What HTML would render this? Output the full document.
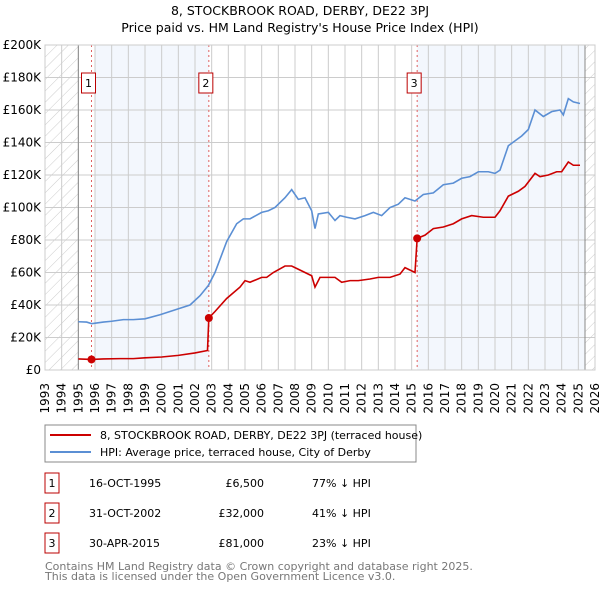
<!DOCTYPE html>
<html><head><meta charset="utf-8"><style>
body{margin:0;background:#fff;font-family:"DejaVu Sans","Liberation Sans",sans-serif;}
svg text{font-family:"DejaVu Sans","Liberation Sans",sans-serif;}
</style></head><body>
<svg id="c" width="600" height="590" viewBox="0 0 600 590" xmlns="http://www.w3.org/2000/svg">
<defs><pattern id="hatch" width="8" height="8" patternUnits="userSpaceOnUse" patternTransform="rotate(45)"><line x1="0" y1="0" x2="0" y2="8" stroke="#ccc" stroke-width="1"/></pattern></defs>
<text x="300" y="15" text-anchor="middle" font-size="12.5">8, STOCKBROOK ROAD, DERBY, DE22 3PJ</text>
<text x="300" y="32" text-anchor="middle" font-size="12.5">Price paid vs. HM Land Registry's House Price Index (HPI)</text>
<g id="plot"></g>
<g>
<rect x="45" y="425" width="371" height="37" fill="#fff" stroke="#888"/>
<line x1="50" y1="435" x2="91" y2="435" stroke="#cc0000" stroke-width="2"/>
<text x="100" y="439" font-size="11">8, STOCKBROOK ROAD, DERBY, DE22 3PJ (terraced house)</text>
<line x1="50" y1="452" x2="91" y2="452" stroke="#5b8fd4" stroke-width="2"/>
<text x="100" y="456" font-size="11">HPI: Average price, terraced house, City of Derby</text>
</g>
<g id="tbl" font-size="11"></g>
<text x="45" y="570" font-size="11" fill="#777">Contains HM Land Registry data © Crown copyright and database right 2025.</text>
<text x="45" y="580" font-size="11" fill="#777">This data is licensed under the Open Government Licence v3.0.</text>
</svg>
<script>
const hpiYears=[1995,1995.5,1995.8,1996.5,1997,1997.7,1998.3,1999,1999.9,2000.5,2001.1,2001.7,2002.3,2002.8,2003.2,2003.9,2004.5,2004.9,2005.3,2006,2006.4,2006.8,2007.4,2007.8,2008.2,2008.6,2009.0,2009.2,2009.4,2010.0,2010.4,2010.7,2011.1,2011.6,2012.2,2012.7,2013.2,2013.7,2014.2,2014.6,2015.2,2015.7,2016.3,2016.9,2017.5,2018,2018.5,2019,2019.6,2020,2020.3,2020.8,2021.2,2021.6,2022,2022.4,2022.9,2023.4,2023.9,2024.1,2024.4,2024.7,2025.1];
const hpiValues=[29.7,29.5,28.5,29.5,30,31,31,31.5,34,36,38,40,45.7,52,60,79,90,93,93,97,98,100,106,111,105,106,98,87,96,97,92,95,94,93,95,97,95,100,102,106,104,108,109,114,115,118,119,122,122,121,123,138,141,144,148,160,156,159,160,157,167,165,164];
const redYears=[1995,1995.79,1996.5,1997.5,1998.3,1999,2000,2001,2002,2002.75,2002.83,2003.2,2003.9,2004.7,2005,2005.3,2006,2006.3,2006.7,2007.4,2007.8,2008.2,2008.6,2009.0,2009.2,2009.5,2010.0,2010.4,2010.8,2011.3,2011.8,2012.5,2013.0,2013.7,2014.3,2014.6,2015.0,2015.2,2015.33,2015.8,2016.3,2016.9,2017.5,2018,2018.6,2019.3,2020,2020.3,2020.8,2021.4,2021.8,2022.4,2022.7,2023.2,2023.7,2024,2024.4,2024.7,2025.1];
const redValues=[6.8,6.5,6.8,7,7,7.5,8,9,10.5,12,32,36,44,51,55,54,57,57,60,64,64,62,60,58,51,57,57,57,54,55,55,56,57,57,59,63,61,60,81,83,87,88,90,93,95,94,94,98,107,110,113,121,119,120,122,122,128,126,126];
const saleYears=[1995.79,2002.83,2015.33];
const saleValues=[6.5,32,81];
const saleLabels=["1","2","3"];
const saleDates=["16-OCT-1995","31-OCT-2002","30-APR-2015"];
const salePrices=["£6,500","£32,000","£81,000"];
const saleDiffs=["77% ↓ HPI","41% ↓ HPI","23% ↓ HPI"];
const yTicks=[0,20,40,60,80,100,120,140,160,180,200];
const yTickLabels=["£0","£20K","£40K","£60K","£80K","£100K","£120K","£140K","£160K","£180K","£200K"];
const xTicks=[1993,1994,1995,1996,1997,1998,1999,2000,2001,2002,2003,2004,2005,2006,2007,2008,2009,2010,2011,2012,2013,2014,2015,2016,2017,2018,2019,2020,2021,2022,2023,2024,2025,2026];

const NS="http://www.w3.org/2000/svg";
const X0=45,X1=595,Y0=370,Y1=45,XMIN=1993,XMAX=2026,YMAX=200;
const xs=v=>X0+(v-XMIN)/(XMAX-XMIN)*(X1-X0);
const ys=v=>Y0-v/YMAX*(Y0-Y1);
const plot=document.getElementById('plot');
function mk(tag,attrs,parent){const e=document.createElementNS(NS,tag);for(const k in attrs)e.setAttribute(k,attrs[k]);(parent||plot).appendChild(e);return e;}
let e;
e=mk('rect',{x:xs(1996),y:Y1,width:xs(saleYears[1])-xs(1996),height:Y0-Y1,fill:'#eef3fc',opacity:0.7});


e=mk('rect',{x:xs(saleYears[2]),y:Y1,width:xs(2025.4)-xs(saleYears[2]),height:Y0-Y1,fill:'#eef3fc',opacity:0.7});


e=mk('rect',{x:X0,y:Y1,width:xs(1995)-X0,height:Y0-Y1,fill:'url(#hatch)'});


e=mk('rect',{x:xs(2025.4),y:Y1,width:X1-xs(2025.4),height:Y0-Y1,fill:'url(#hatch)'});


yTicks.forEach((t,i)=>{
 e=mk('line',{x1:X0,x2:X1,y1:ys(t),y2:ys(t),stroke:'#ccc','stroke-width':1});
 
 
 e=mk('text',{x:X0-4,y:ys(t)+4,'text-anchor':'end','font-size':12});
 e.textContent=yTickLabels[i];
 
 
});
xTicks.forEach(t=>{
 e=mk('line',{x1:xs(t),x2:xs(t),y1:Y1,y2:Y0,stroke:'#ccc','stroke-width':1});
 
 
 const tx=xs(t)+4,ty=383;
 e=mk('text',{x:tx,y:ty,'text-anchor':'end','font-size':12,transform:'rotate(-90 '+tx+' '+ty+')'});
 e.textContent=t;
 
 
});
e=mk('line',{x1:xs(1995),x2:xs(1995),y1:Y1,y2:Y0,stroke:'#888'});


e=mk('line',{x1:xs(2025.4),x2:xs(2025.4),y1:Y1,y2:Y0,stroke:'#888'});


saleYears.forEach((y,i)=>{
 e=mk('line',{x1:xs(y),x2:xs(y),y1:Y1,y2:Y0,stroke:'#e06060','stroke-dasharray':'2,3','stroke-width':1});
 
 
});
e=mk('polyline',{points:hpiYears.map((y,i)=>xs(y)+','+ys(hpiValues[i])).join(' '),fill:'none',stroke:'#5b8fd4','stroke-width':1.6});


e=mk('polyline',{points:redYears.map((y,i)=>xs(y)+','+ys(redValues[i])).join(' '),fill:'none',stroke:'#cc0000','stroke-width':1.6});


saleYears.forEach((y,i)=>{
 e=mk('circle',{cx:xs(y),cy:ys(saleValues[i]),r:4,fill:'#cc0000'});
 
 
 e=mk('rect',{x:xs(y)-10,y:73,width:14,height:20,fill:'#fff',stroke:'#b00'});
 
 
 e=mk('text',{x:xs(y)-3,y:87,'text-anchor':'middle','font-size':11});
 e.textContent=saleLabels[i];
 
 
});
e=mk('rect',{x:X0,y:Y1,width:X1-X0,height:Y0-Y1,fill:'none',stroke:'#ccc'});


const tbl=document.getElementById('tbl');
saleLabels.forEach((l,i)=>{
 const cy=483+i*30;
 e=mk('rect',{x:45,y:cy-10,width:14,height:20,fill:'#fff',stroke:'#b00'},tbl);
 
 
 e=mk('text',{x:52,y:cy+4,'text-anchor':'middle'},tbl);e.textContent=l;
 
 
 e=mk('text',{x:89,y:cy+4},tbl);e.textContent=saleDates[i];
 
 
 e=mk('text',{x:264,y:cy+4,'text-anchor':'end'},tbl);e.textContent=salePrices[i];
 
 
 e=mk('text',{x:312,y:cy+4},tbl);e.textContent=saleDiffs[i];
 
 
});
</script>
</body></html>
